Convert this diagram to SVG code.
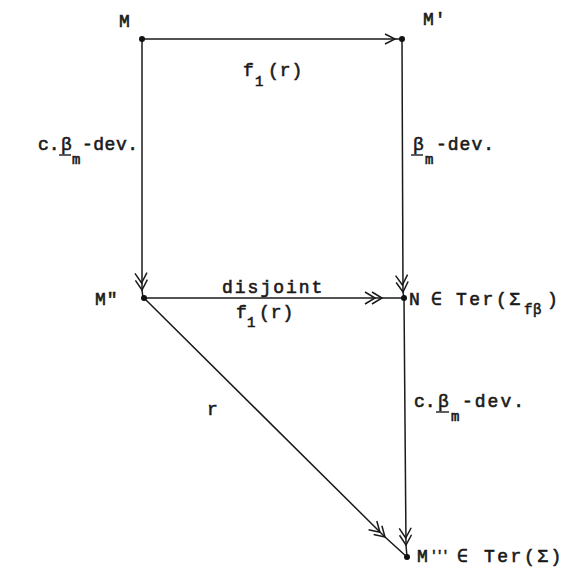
<svg xmlns="http://www.w3.org/2000/svg" width="576" height="569" viewBox="0 0 576 569">
<style>
text{font-family:"Liberation Mono","Courier New",monospace;fill:#1a1a1a;stroke:#1a1a1a;stroke-width:0.6px;font-size:18px;letter-spacing:1px}
.s{font-size:14px;letter-spacing:0.5px}
.w{letter-spacing:2.5px}
.n{letter-spacing:0}
.ln{stroke:#1a1a1a;stroke-width:1.5;fill:none}
.ul{stroke:#1a1a1a;stroke-width:1.4}
.dot{fill:#111}
</style>
<defs>
<marker id="one" viewBox="-14 -8 16 16" refX="0" refY="0" markerWidth="16" markerHeight="16" markerUnits="userSpaceOnUse" orient="auto">
<path d="M-10,-5 L0,0 L-10,5" fill="none" stroke="#1a1a1a" stroke-width="1.5"/>
</marker>
<marker id="two" viewBox="-20 -8 22 16" refX="0" refY="0" markerWidth="22" markerHeight="16" markerUnits="userSpaceOnUse" orient="auto">
<path d="M-10,-6 L0,0 L-10,6 M-17,-6 L-7,0 L-17,6" fill="none" stroke="#1a1a1a" stroke-width="1.5"/>
</marker>
</defs>
<rect width="576" height="569" fill="#fff"/>
<g id="connectors">
<path class="ln" d="M142,39 L395,39 L402,39" marker-mid="url(#one)"/>
<path class="ln" d="M142,39 L142,290 L143,298" marker-mid="url(#two)"/>
<path class="ln" d="M402,39 L403,292 L404,298" marker-mid="url(#two)"/>
<path class="ln" d="M144,298 L382,298 L404,298" marker-mid="url(#two)"/>
<path class="ln" d="M144,298 L385,537 L407,557" marker-mid="url(#two)"/>
<path class="ln" d="M404,298 L406,545 L407,557" marker-mid="url(#two)"/>
</g>
<g id="M">
<circle class="dot" cx="142" cy="39" r="3"/>
<text x="119" y="27">M</text>
</g>
<g id="M1">
<circle class="dot" cx="402" cy="39" r="3"/>
<text x="423" y="25">M'</text>
</g>
<g id="M2">
<circle class="dot" cx="144" cy="298" r="3"/>
<text x="95" y="305">M"</text>
</g>
<g id="N">
<circle class="dot" cx="404" cy="298" r="3"/>
<text x="409" y="305">N</text>
<text x="431" y="305">∈</text>
<text class="w" x="456" y="305">Ter(Σ</text>
<text class="s" x="524" y="314">fβ</text>
<text x="547" y="305">)</text>
</g>
<g id="M3">
<circle class="dot" cx="407" cy="557" r="3"/>
<text x="417" y="562">M</text>
<text x="430" y="559" style="font-size:13px;letter-spacing:-2px">'''</text>
<text x="457" y="562">∈</text>
<text class="w" x="484" y="562">Ter(Σ)</text>
</g>
<g id="labels">
<text x="243" y="76">f</text>
<text class="s" x="255" y="86">1</text>
<text x="268" y="76">(r)</text>

<text class="n" x="38" y="150">c.</text>
<text x="61" y="150">β</text>
<line class="ul" x1="59" y1="155" x2="71" y2="155"/>
<text class="s" x="72" y="164">m</text>
<text x="82" y="150" style="letter-spacing:0.5px">-dev.</text>

<text x="413" y="150">β</text>
<line class="ul" x1="411" y1="155" x2="423" y2="155"/>
<text class="s" x="425" y="164">m</text>
<text x="436" y="150">-dev.</text>

<text x="222" y="293" style="letter-spacing:2px">disjoint</text>
<text x="236" y="318">f</text>
<text class="s" x="247" y="327">1</text>
<text x="259" y="318">(r)</text>

<text x="207" y="415">r</text>

<text class="n" x="414" y="407">c.</text>
<text x="438" y="407">β</text>
<line class="ul" x1="436" y1="412" x2="449" y2="412"/>
<text class="s" x="451" y="421">m</text>
<text x="462" y="407" style="letter-spacing:2px">-dev.</text>
</g>
</svg>
